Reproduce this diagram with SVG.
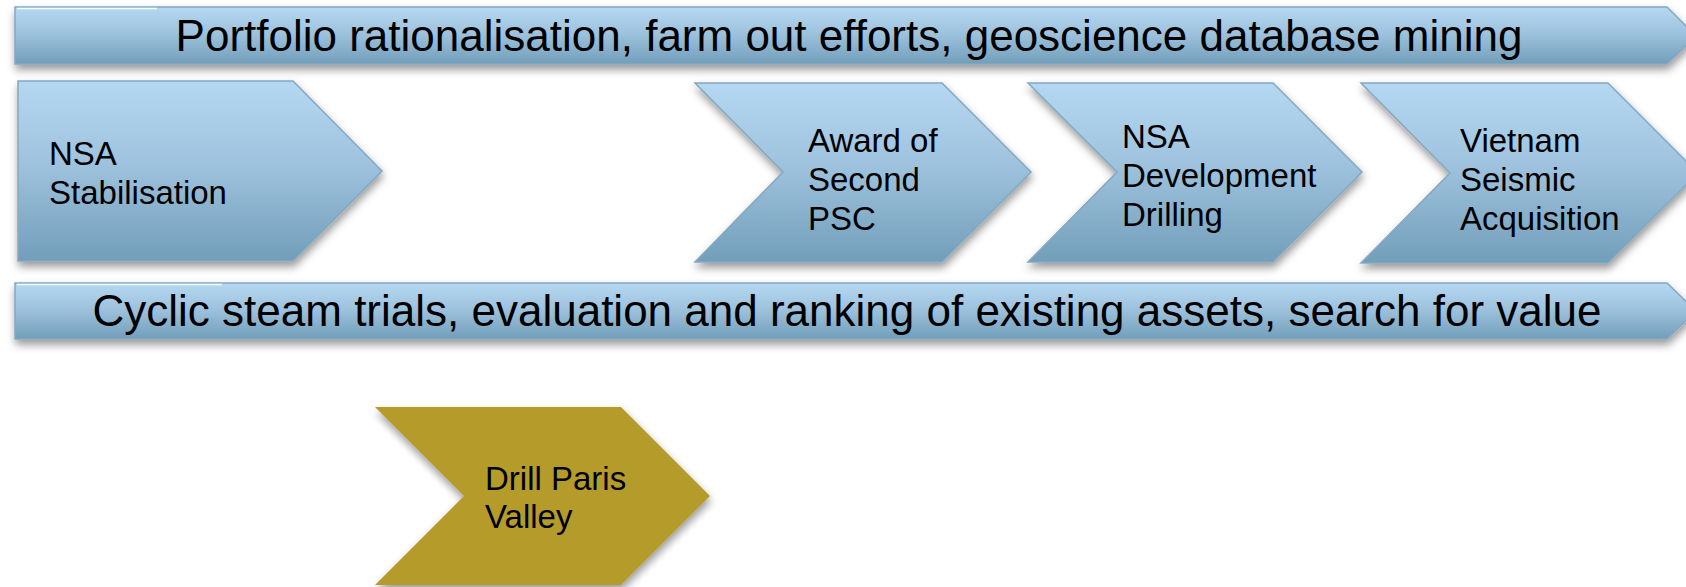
<svg xmlns="http://www.w3.org/2000/svg" width="1686" height="587" viewBox="0 0 1686 587">
  <style>
    .blue { fill: url(#blueGrad); stroke: #84A8C1; stroke-width: 1.5; filter: url(#shadow); }
    .gold { fill: #B59C2A; filter: url(#shadow); }
    .bar-text { font-family: "Liberation Sans", Arial, sans-serif; font-size: 44px; fill: #000; text-anchor: middle; }
    .node-text { font-family: "Liberation Sans", Arial, sans-serif; font-size: 33px; fill: #000; }
    .gloss { stroke: #FFFFFF; stroke-width: 1.5; opacity: 0.9; }
  </style>
  <defs>
    <linearGradient id="blueGrad" x1="0" y1="0" x2="0" y2="1">
      <stop offset="0" stop-color="#B5D8F2"/>
      <stop offset="0.45" stop-color="#9FC3DE"/>
      <stop offset="1" stop-color="#729EBA"/>
    </linearGradient>
    <filter id="shadow" x="-5%" y="-10%" width="110%" height="135%">
      <feDropShadow dx="1" dy="5" stdDeviation="4" flood-color="#000" flood-opacity="0.4"/>
    </filter>
  </defs>

  <rect width="1686" height="587" fill="#FFFFFF"/>

  <g id="bar-top">
    <path class="blue" d="M15,7 H1667 L1696,36 L1667,64 H15 Z"/>
    <line class="gloss" x1="17" y1="8.5" x2="157" y2="8.5"/>
    <text class="bar-text" x="849" y="51">Portfolio rationalisation, farm out efforts, geoscience database mining</text>
  </g>

  <g id="node-nsa-stabilisation">
    <path class="blue" d="M18,81 H293 L382,171 L293,261 H18 Z"/>
    <text class="node-text" x="49" y="165">NSA</text>
    <text class="node-text" x="49" y="204">Stabilisation</text>
  </g>

  <g id="node-award-second-psc">
    <path class="blue" d="M695,83 H942 L1031,172 L942,262 H695 L783,172 Z"/>
    <text class="node-text" x="808" y="152">Award of</text>
    <text class="node-text" x="808" y="191">Second</text>
    <text class="node-text" x="808" y="230">PSC</text>
  </g>

  <g id="node-nsa-development-drilling">
    <path class="blue" d="M1028,83 H1273 L1362,172 L1273,262 H1028 L1117,172 Z"/>
    <text class="node-text" x="1122" y="148">NSA</text>
    <text class="node-text" x="1122" y="187">Development</text>
    <text class="node-text" x="1122" y="226">Drilling</text>
  </g>

  <g id="node-vietnam-seismic">
    <path class="blue" d="M1361,83 H1608 L1698,173 L1608,263 H1361 L1450,173 Z"/>
    <text class="node-text" x="1460" y="152">Vietnam</text>
    <text class="node-text" x="1460" y="191">Seismic</text>
    <text class="node-text" x="1460" y="230">Acquisition</text>
  </g>

  <g id="bar-bottom">
    <path class="blue" d="M15,283 H1667 L1696,311 L1667,339 H15 Z"/>
    <line class="gloss" x1="17" y1="284.5" x2="222" y2="284.5"/>
    <text class="bar-text" x="847" y="326">Cyclic steam trials, evaluation and ranking of existing assets, search for value</text>
  </g>

  <g id="node-drill-paris-valley">
    <path class="gold" d="M375,407 H621 L710,496 L621,585 H375 L464,496 Z"/>
    <text class="node-text" x="485" y="490">Drill Paris</text>
    <text class="node-text" x="485" y="528">Valley</text>
  </g>

  <g id="connectors"/>
</svg>
